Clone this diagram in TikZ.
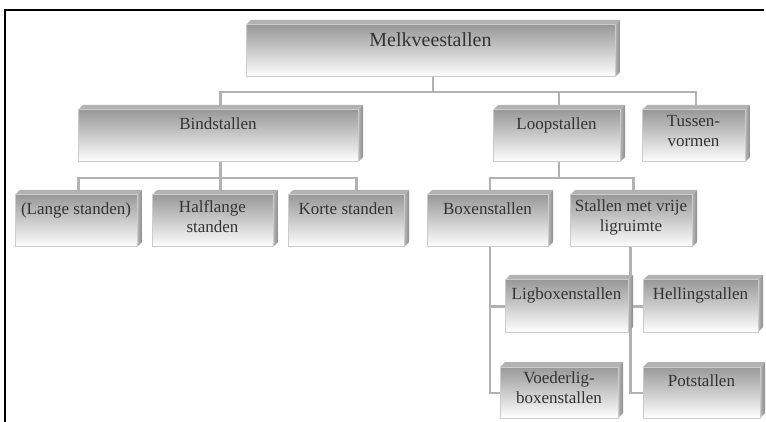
\documentclass[tikz,border=0pt]{standalone}
\usepackage{fontspec}
\setmainfont{Liberation Serif}
\pgfdeclarelayer{background}
\pgfsetlayers{background,main}

\tikzset{
  % a box drawn as a block: shaded front face, thin top face and right face
  stallbox/.style={rectangle, inner sep=0pt, outer sep=0pt,
    path picture={
      \coordinate (ppnw) at (path picture bounding box.north west);
      \coordinate (ppne) at (path picture bounding box.north east);
      \coordinate (ppse) at (path picture bounding box.south east);
      \shade[top color=black!40, middle color=black!12, bottom color=white]
        ([yshift=-5pt]ppnw) rectangle ([xshift=-5pt]ppse);
      \fill[black!30] ([yshift=-5pt]ppnw) -- ([xshift=5pt]ppnw) -- (ppne)
        -- ([shift={(-5pt,-5pt)}]ppne) -- cycle;
      \shade[left color=black!28, right color=black!45]
        ([shift={(-5pt,-5pt)}]ppne) -- (ppne) -- ([yshift=5pt]ppse)
        -- ([xshift=-5pt]ppse) -- cycle;
      \draw[black!20, line width=1pt]
        ([yshift=-5pt]ppnw) rectangle ([xshift=-5pt]ppse);
    }},
  boxtext/.style={anchor=north, xshift=-2.5pt, yshift=-10pt, inner sep=0pt,
    align=center, text=black!80, font=\fontsize{17}{20}\selectfont,
    execute at begin node=\strut},
  bigtext/.style={boxtext, font=\fontsize{20}{24}\selectfont},
  link/.style={draw=black!30, line width=2.6pt},
}

\begin{document}
\begin{tikzpicture}[x=1pt, y=-1pt]
\useasboundingbox (0,0) rectangle (766,422);

% frame lines along the top and left
\draw[line width=2pt] (5,422) -- (5,10) -- (764,10);

% level 0
\node[stallbox, minimum width=374pt, minimum height=57pt,
  label={[bigtext]north:Melkveestallen}] (melk) at (433,48.5) {};

% level 1
\node[stallbox, minimum width=285pt, minimum height=57pt,
  label={[boxtext]north:Bindstallen}] (bind) at (220.5,133.5) {};
\node[stallbox, minimum width=132pt, minimum height=57pt,
  label={[boxtext]north:Loopstallen}] (loop) at (559,133.5) {};
\node[stallbox, minimum width=108pt, minimum height=57pt,
  label={[boxtext]north:{Tussen-\\vormen}}] (tussen) at (696,133.5) {};

% level 2
\node[stallbox, minimum width=127pt, minimum height=57pt,
  label={[boxtext]north:(Lange standen)}] (lange) at (78.5,218.5) {};
\node[stallbox, minimum width=126pt, minimum height=57pt,
  label={[boxtext]north:{Halflange\\standen}}] (half) at (215,218.5) {};
\node[stallbox, minimum width=121pt, minimum height=57pt,
  label={[boxtext]north:Korte standen}] (korte) at (348.5,218.5) {};
\node[stallbox, minimum width=126pt, minimum height=57pt,
  label={[boxtext]north:Boxenstallen}] (boxen) at (490,218.5) {};
\node[stallbox, minimum width=127pt, minimum height=57pt,
  label={[boxtext]north:{Stallen met vrije\\ligruimte}}] (vrij) at (633.5,218.5) {};

% level 3
\node[stallbox, minimum width=128pt, minimum height=57pt,
  label={[boxtext]north:Ligboxenstallen}] (ligbox) at (569,303.5) {};
\node[stallbox, minimum width=123pt, minimum height=56pt,
  label={[boxtext]north:{Voederlig-\\boxenstallen}}] (voeder) at (561.5,390) {};
\node[stallbox, minimum width=120pt, minimum height=57pt,
  label={[boxtext]north:Hellingstallen}] (helling) at (703,303.5) {};
\node[stallbox, minimum width=122pt, minimum height=56pt,
  label={[boxtext]north:Potstallen}] (pot) at (704,390) {};

% connectors, kept behind the boxes
\begin{pgfonlayer}{background}
  \draw[link] (melk.south) -- ++(0,15) coordinate (bus1);
  \draw[link] (bind.north) |- (bus1) -| (tussen.north);
  \draw[link] (loop.north) -- (loop.north |- bus1);

  \draw[link] (bind.south) -- ++(0,16) coordinate (bus2);
  \draw[link] (lange.north) |- (bus2) -| ([xshift=8pt]korte.north);
  \draw[link] (bus2) -- (bus2 |- half.north);

  \draw[link] (loop.south) -- ++(0,16) coordinate (bus3);
  \draw[link] (boxen.north) |- (bus3) -| (vrij.north);

  \draw[link] (boxen.south) |- ([yshift=-3pt]ligbox.west);
  \draw[link] (boxen.south) |- ([yshift=-3pt]voeder.west);
  \draw[link] ([xshift=-3pt]vrij.south) |- ([yshift=-3pt]helling.west);
  \draw[link] ([xshift=-3pt]vrij.south) |- ([yshift=-3pt]pot.west);
\end{pgfonlayer}
\end{tikzpicture}
\end{document}
